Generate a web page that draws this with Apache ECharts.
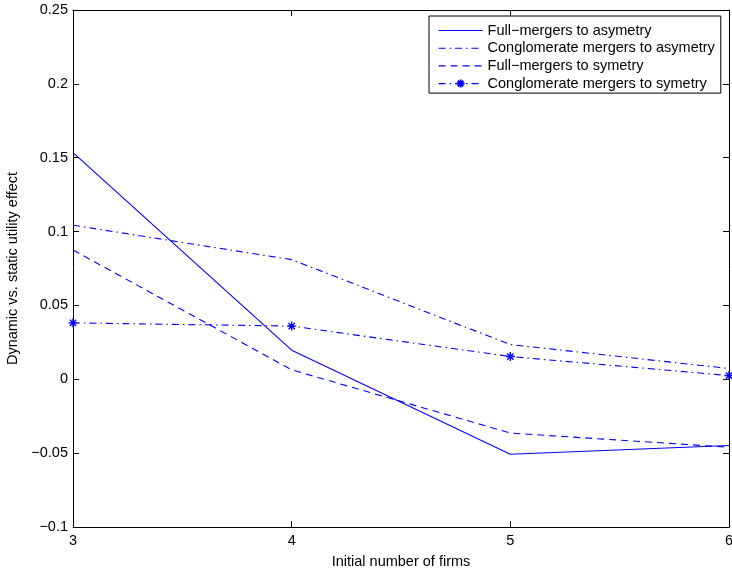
<!DOCTYPE html>
<html>
<head>
<meta charset="utf-8">
<script src="https://cdn.jsdelivr.net/npm/echarts@6/dist/echarts.min.js"></script>
<style>
  html, body { margin: 0; padding: 0; background: #fff; }
  #chart { width: 732px; height: 569px; }
</style>
</head>
<body>
<div id="chart"></div>
<script>
// Initial number of firms
const firms = [3, 4, 5, 6];

// Dynamic vs. static utility effect per scenario
const fullAsym = [0.1535, 0.0197, -0.0507, -0.0448];
const conglAsym = [0.1043, 0.0810, 0.0235, 0.0073];
const fullSym = [0.0875, 0.0064, -0.0364, -0.0460];
const conglSym = [0.0382, 0.0360, 0.0154, 0.0025];

const seriesNames = [
  'Full\u2212mergers to asymetry',
  'Conglomerate mergers to asymetry',
  'Full\u2212mergers to symetry',
  'Conglomerate mergers to symetry'
];

const BLUE = '#0000ff';
const FONT = 'Liberation Sans, Arial, Helvetica, sans-serif';
const FS = 14.5;
const DASH = [7, 5];
const DASHDOT = [7, 4, 1.5, 4];
const STAR = 'path://M0,-10L0,10M-10,0L10,0M-7,-7L7,7M-7,7L7,-7';

function pairs(ys) {
  return firms.map((x, i) => [x, ys[i]]);
}

function fmtY(v) {
  let s = parseFloat(v.toFixed(4)).toString();
  return s.replace('-', '\u2212');
}

const tickStyle = { inside: true, length: 6, lineStyle: { color: '#000', width: 1 } };
const axisLine = { show: true, onZero: false, lineStyle: { color: '#000', width: 1 } };

function lineSeries(name, data, type, extra) {
  return Object.assign({
    name: name,
    type: 'line',
    data: pairs(data),
    symbol: 'none',
    silent: true,
    animation: false,
    lineStyle: { color: BLUE, width: 1.1, type: type },
    itemStyle: { color: BLUE }
  }, extra || {});
}

// Plain line samples carry no marker in the key
const legendData = seriesNames.map((n, i) =>
  i === 3 ? { name: n } : { name: n, itemStyle: { opacity: 0 } }
);

const chart = echarts.init(document.getElementById('chart'), null, { renderer: 'canvas' });

chart.setOption({
  animation: false,
  backgroundColor: '#fff',
  textStyle: { fontFamily: FONT },
  grid: { left: 73, right: 3, top: 10, bottom: 42, containLabel: false, outerBoundsMode: 'none' },
  xAxis: [
    {
      type: 'value', min: 3, max: 6, interval: 1,
      position: 'bottom',
      name: 'Initial number of firms',
      nameLocation: 'middle', nameGap: 27,
      nameTextStyle: { color: '#000', fontSize: FS, fontFamily: FONT },
      axisLine: axisLine, axisTick: tickStyle,
      axisLabel: { color: '#000', fontSize: FS, fontFamily: FONT, margin: 6, showMinLabel: true, showMaxLabel: true },
      splitLine: { show: false }
    },
    {
      type: 'value', min: 3, max: 6, interval: 1,
      position: 'top',
      axisLine: axisLine, axisTick: tickStyle,
      axisLabel: { show: false },
      splitLine: { show: false }
    }
  ],
  yAxis: [
    {
      type: 'value', min: -0.1, max: 0.25, interval: 0.05,
      position: 'left',
      name: 'Dynamic vs. static utility effect',
      nameLocation: 'middle', nameGap: 52, nameRotate: 90,
      nameTextStyle: { color: '#000', fontSize: FS, fontFamily: FONT },
      axisLine: axisLine, axisTick: tickStyle,
      axisLabel: { color: '#000', fontSize: FS, fontFamily: FONT, margin: 5, formatter: fmtY },
      splitLine: { show: false }
    },
    {
      type: 'value', min: -0.1, max: 0.25, interval: 0.05,
      position: 'right',
      axisLine: axisLine, axisTick: tickStyle,
      axisLabel: { show: false },
      splitLine: { show: false }
    }
  ],
  legend: {
    orient: 'vertical',
    left: 429, top: 16,
    padding: [7, 6, 2, 9],
    itemWidth: 44, itemHeight: 10, itemGap: 2.7,
    borderColor: '#000', borderWidth: 1,
    backgroundColor: '#fff',
    selectedMode: false,
    lineStyle: { width: 1.1 },
    textStyle: { color: '#000', fontSize: FS, fontFamily: FONT },
    data: legendData
  },
  series: [
    lineSeries(seriesNames[0], fullAsym, 'solid'),
    lineSeries(seriesNames[1], conglAsym, DASHDOT),
    lineSeries(seriesNames[2], fullSym, DASH),
    lineSeries(seriesNames[3], conglSym, DASHDOT, {
      symbol: STAR,
      symbolSize: 9,
      showSymbol: true,
      itemStyle: { color: 'none', borderColor: BLUE, borderWidth: 1.4 }
    })
  ]
});
</script>
</body>
</html>
